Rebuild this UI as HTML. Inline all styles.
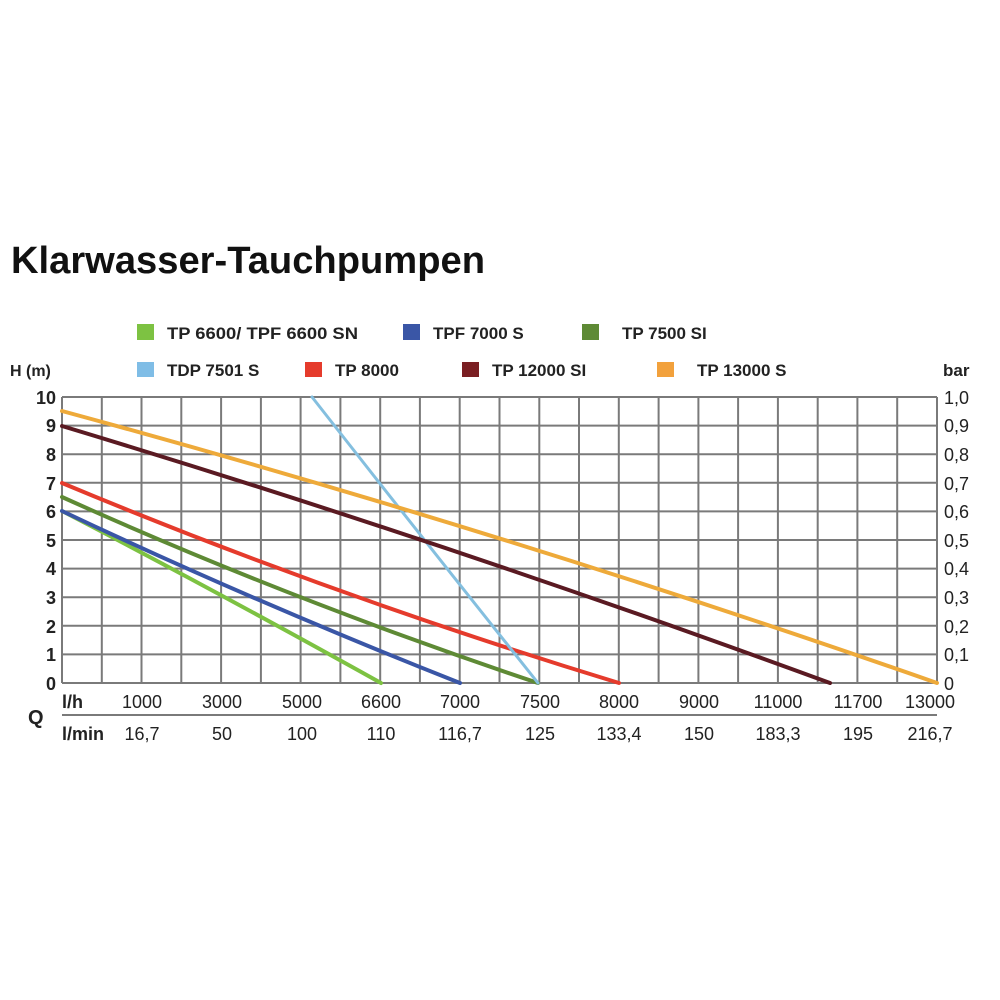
<!DOCTYPE html>
<html><head><meta charset="utf-8"><style>
html,body{margin:0;padding:0;background:#fff;}
svg{display:block;font-family:"Liberation Sans",Arial,sans-serif;}
</style></head><body>
<svg width="1000" height="1000" viewBox="0 0 1000 1000" xmlns="http://www.w3.org/2000/svg">
<rect width="1000" height="1000" fill="#fff"/>
<text x="11" y="273" font-size="38" font-weight="bold" fill="#111" textLength="474" lengthAdjust="spacingAndGlyphs">Klarwasser-Tauchpumpen</text>
<g font-size="17" font-weight="bold" fill="#222">
<rect x="137" y="324" width="17" height="16" fill="#7dc242"/><text x="167" y="339" textLength="191" lengthAdjust="spacingAndGlyphs">TP 6600/ TPF 6600 SN</text>
<rect x="403" y="324" width="17" height="16" fill="#3a56a6"/><text x="433" y="339">TPF 7000 S</text>
<rect x="582" y="324" width="17" height="16" fill="#5e8a35"/><text x="622" y="339">TP 7500 SI</text>
<rect x="137" y="362" width="17" height="15" fill="#7fbde6"/><text x="167" y="376">TDP 7501 S</text>
<rect x="305" y="362" width="17" height="15" fill="#e53b2c"/><text x="335" y="376">TP 8000</text>
<rect x="462" y="362" width="17" height="15" fill="#7a1e22"/><text x="492" y="376">TP 12000 SI</text>
<rect x="657" y="362" width="17" height="15" fill="#f2a13c"/><text x="697" y="376">TP 13000 S</text>
<text x="10" y="376" font-size="16">H (m)</text>
<text x="943" y="376">bar</text>
</g>
<g stroke="#7a7a7a" stroke-width="2" fill="none">
<path d="M62 397H937M62 425.6H937M62 454.2H937M62 482.8H937M62 511.4H937M62 540H937M62 568.6H937M62 597.2H937M62 625.8H937M62 654.4H937M62 683H937"/>
<path d="M62 397V683M101.8 397V683M141.5 397V683M181.3 397V683M221.1 397V683M260.9 397V683M300.6 397V683M340.4 397V683M380.2 397V683M419.9 397V683M459.7 397V683M499.5 397V683M539.3 397V683M579 397V683M618.8 397V683M658.6 397V683M698.4 397V683M738.1 397V683M777.9 397V683M817.7 397V683M857.4 397V683M897.2 397V683M937 397V683"/>
<path d="M62 715H937" stroke-width="2"/>
</g>
<g fill="none" stroke-width="4" stroke-linecap="round">
<path d="M62 511 Q205 585 381 683" stroke="#7dc242"/>
<path d="M62 511 Q250 600 460 683" stroke="#3a56a6"/>
<path d="M62 497 Q290 600 538 683" stroke="#5e8a35"/>
<path d="M62 483 Q330 595 619 683" stroke="#e53b2c"/>
<path d="M312 397 Q420 535 538 683" stroke="#84bfdf" stroke-width="3"/>
<path d="M62 426 Q440 540 830 683" stroke="#5a1a22"/>
<path d="M62 411 Q500 530 937 683" stroke="#eeaa3a"/>
</g>
<g font-size="18" font-weight="bold" fill="#222" text-anchor="end">
<text x="56" y="404">10</text><text x="56" y="432">9</text><text x="56" y="461">8</text><text x="56" y="490">7</text><text x="56" y="518">6</text><text x="56" y="547">5</text><text x="56" y="575">4</text><text x="56" y="604">3</text><text x="56" y="633">2</text><text x="56" y="661">1</text><text x="56" y="690">0</text>
</g>
<g font-size="18" fill="#222">
<text x="944" y="404">1,0</text><text x="944" y="432">0,9</text><text x="944" y="461">0,8</text><text x="944" y="490">0,7</text><text x="944" y="518">0,6</text><text x="944" y="547">0,5</text><text x="944" y="575">0,4</text><text x="944" y="604">0,3</text><text x="944" y="633">0,2</text><text x="944" y="661">0,1</text><text x="944" y="690">0</text>
</g>
<g font-size="18" font-weight="bold" fill="#222">
<text x="62" y="708">l/h</text>
<text x="62" y="740">l/min</text>
<text x="28" y="724" font-size="20">Q</text>
</g>
<g font-size="18" fill="#222" text-anchor="middle">
<text x="142" y="708">1000</text><text x="222" y="708">3000</text><text x="302" y="708">5000</text><text x="381" y="708">6600</text><text x="460" y="708">7000</text><text x="540" y="708">7500</text><text x="619" y="708">8000</text><text x="699" y="708">9000</text><text x="778" y="708">11000</text><text x="858" y="708">11700</text><text x="930" y="708">13000</text>
<text x="142" y="740">16,7</text><text x="222" y="740">50</text><text x="302" y="740">100</text><text x="381" y="740">110</text><text x="460" y="740">116,7</text><text x="540" y="740">125</text><text x="619" y="740">133,4</text><text x="699" y="740">150</text><text x="778" y="740">183,3</text><text x="858" y="740">195</text><text x="930" y="740">216,7</text>
</g>
</svg>
</body></html>
